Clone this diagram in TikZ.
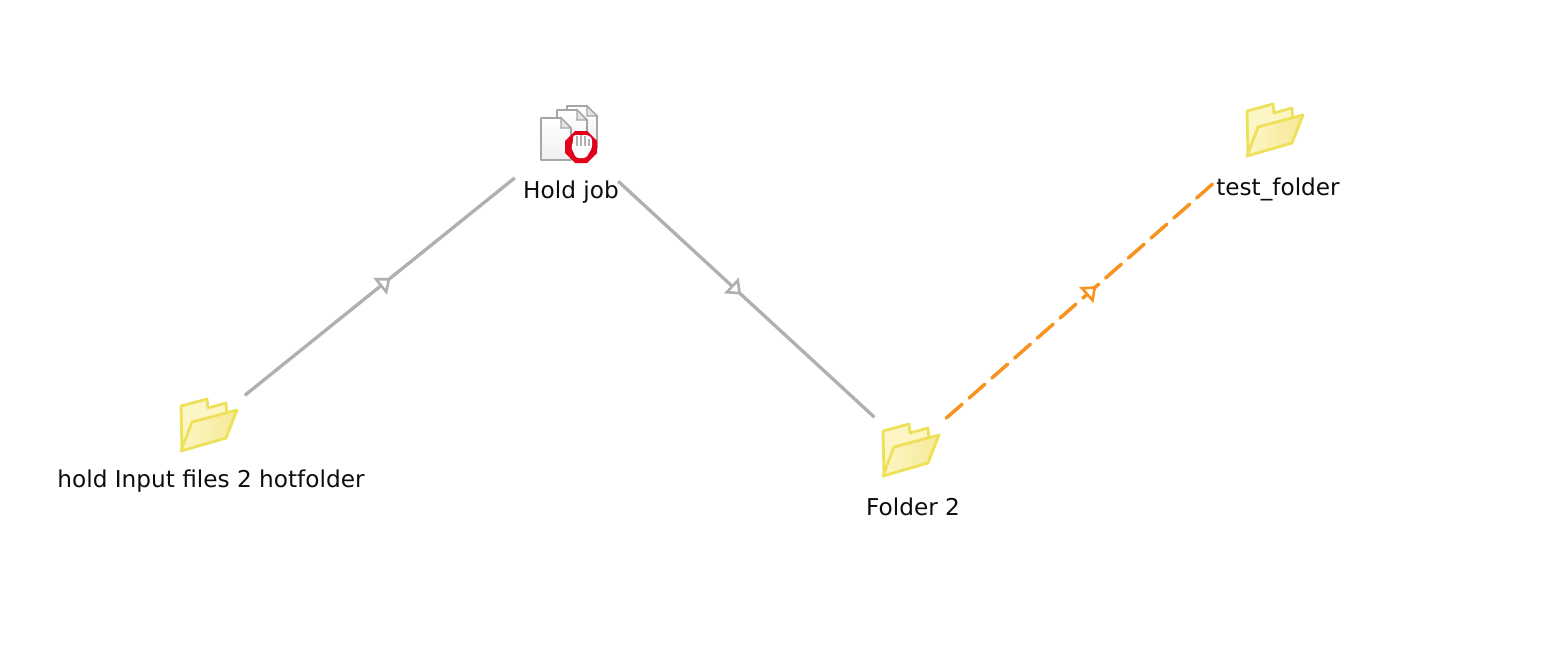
\documentclass[tikz,border=0pt]{standalone}
\usepackage{fontspec}
\setmainfont{DejaVu Sans}
\usetikzlibrary{arrows.meta,decorations.markings}
\definecolor{flowgray}{HTML}{B1AFB3}
\definecolor{floworange}{HTML}{F7931E}
\definecolor{folderedge}{HTML}{EFE05A}
\definecolor{folderlight}{HTML}{FCF6C6}
\definecolor{folderdark}{HTML}{F5E896}
\definecolor{stopred}{HTML}{E2001A}
\tikzset{
  folderpic/.pic={
    \draw[folderedge,line width=1.6pt,line join=round,fill=folderlight]
      (-27,-19) -- (-1,-26) -- (0,-17) -- (18,-22) -- (19,-10) -- (-26,25) -- cycle;
    \draw[folderedge,line width=1.6pt,line join=round,left color=folderlight,right color=folderdark]
      (-16,-3) -- (29,-15) -- (18,13) -- (-27,26) -- cycle;
  },
  pagepic/.pic={
    \draw[gray!70,line width=1pt,line join=round,top color=white,bottom color=gray!12]
      (-15,-21) -- (5,-21) -- (15,-11) -- (15,21) -- (-15,21) -- cycle;
    \draw[gray!70,line width=.8pt,fill=gray!20] (5,-21) -- (5,-11) -- (15,-11) -- cycle;
  },
  jobpic/.pic={
    \pic at (14,-8) {pagepic};
    \pic at (4,-4) {pagepic};
    \pic at (-12,4) {pagepic};
    \fill[stopred] (7,-4) -- (19,-4) -- (29,6) -- (29,18) -- (19,28) -- (7,28) -- (-3,18) -- (-3,6) -- cycle;
    \fill[white,rounded corners=1.5pt] (5,0) -- (5,8) -- (3,12) -- (8,23) -- (18,23) -- (24,13) -- (24,3) -- (20,0) -- cycle;
    \draw[gray!60,line width=.9pt] (9,1) -- (9,11) (13,0) -- (13,11) (17,1) -- (17,11) (21,4) -- (21,11);
  },
  iconspot/.style={circle,inner sep=0pt,minimum size=#1*0.02cm},
  flowline/.style={flowgray,line width=1.9pt},
  dashline/.style={floworange,line width=2pt,line cap=round,dash pattern=on .42cm off .186cm},
  midarrow/.style={postaction={decorate,decoration={markings,
    mark=at position #1 with {\arrow[line width=1.5pt,line cap=butt]{Triangle[open,length=.27cm,width=.42cm,fill=white]}}}}}
}
\begin{document}
\begin{tikzpicture}
  [x=0.02cm,y=-0.02cm,every node/.style={font=\fontsize{13.2}{16}\selectfont,text=black!95}]
  \useasboundingbox (0,0) rectangle (1552,660);

  \node[iconspot=94] (holdinput) at (208,425) {};
  \node[iconspot=136] (holdjob) at (568,135) {};
  \node[iconspot=96] (folder2) at (910,450) {};
  \node[iconspot=96] (testfolder) at (1274,130) {};

  \pic at (holdinput) {folderpic};
  \pic at (holdjob) {jobpic};
  \pic at (folder2) {folderpic};
  \pic at (testfolder) {folderpic};

  \node (holdinputlabel) at (211,481) {hold Input files 2 hotfolder};
  \node (holdjoblabel) at (571,192) {Hold job};
  \node (folder2label) at (913,507) {Folder 2};
  \node (testfolderlabel) at (1278,189) {test\_folder};

  \foreach \from/\to/\where in {holdinput/holdjob/.54,holdjob/folder2/.48}
    \draw[flowline,midarrow=\where] (\from) -- (\to);
  \draw[dashline,midarrow=.515,shorten >=.66cm] (folder2) -- (testfolder);

\end{tikzpicture}
\end{document}
